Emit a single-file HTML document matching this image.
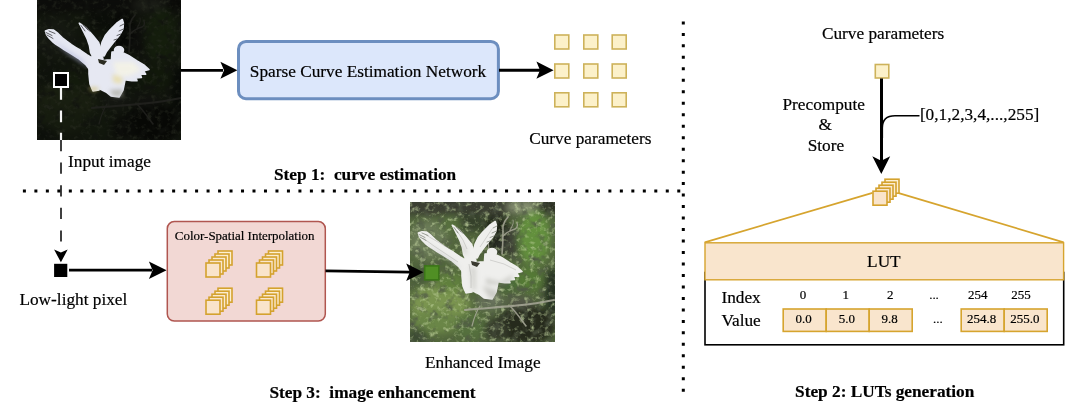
<!DOCTYPE html>
<html><head><meta charset="utf-8">
<style>
html,body{margin:0;padding:0;background:#fff;}
body{width:1068px;height:420px;overflow:hidden;}
svg{display:block;will-change:transform;}
text{font-family:"Liberation Serif",serif;fill:#000;stroke:#000;stroke-width:0.2px;}
.t17{font-size:17.28px;}
.b17{font-size:17.28px;font-weight:bold;}
.t13{font-size:12.96px;}
</style></head><body>
<svg width="1068" height="420" viewBox="0 0 1068 420">
<defs>
  <filter id="bl1" x="-10%" y="-10%" width="120%" height="120%"><feGaussianBlur stdDeviation="0.7"/></filter>
  <filter id="bl4" x="-20%" y="-20%" width="140%" height="140%"><feGaussianBlur stdDeviation="5"/></filter>
  <filter id="bl2" x="-20%" y="-20%" width="140%" height="140%"><feGaussianBlur stdDeviation="2"/></filter>
  <clipPath id="cpIn"><rect x="0" y="0" width="144" height="140"/></clipPath>
  <clipPath id="cpEn"><rect x="0" y="0" width="145" height="140"/></clipPath>
  
  <filter id="bl3" x="-10%" y="-10%" width="120%" height="120%"><feGaussianBlur stdDeviation="3.5"/></filter>
  <filter id="noiseD" x="0" y="0" width="100%" height="100%"><feTurbulence type="fractalNoise" baseFrequency="0.11" numOctaves="3" seed="7" result="n"/><feColorMatrix in="n" type="matrix" values="0 0 0 0 0.08  0 0 0 0 0.1  0 0 0 0 0.06  -2.6 0 0 0 1.3"/><feGaussianBlur stdDeviation="0.7"/></filter>
  <filter id="noiseL" x="0" y="0" width="100%" height="100%"><feTurbulence type="fractalNoise" baseFrequency="0.2" numOctaves="3" seed="11" result="n"/><feColorMatrix in="n" type="matrix" values="0 0 0 0 0.56  0 0 0 0 0.68  0 0 0 0 0.36  2.0 0 0 0 -1.05"/><feGaussianBlur stdDeviation="0.6"/></filter>
<g id="photobg">
    <rect x="0" y="0" width="145" height="140" fill="#52663c"/>
    <g filter="url(#bl3)">
      <rect x="-5" y="-5" width="155" height="18" fill="#3a3c32"/>
      <ellipse cx="18" cy="38" rx="20" ry="20" fill="#6a7a56"/>
      <ellipse cx="40" cy="22" rx="12" ry="8" fill="#56703e"/>
      <ellipse cx="62" cy="20" rx="12" ry="10" fill="#34402a"/>
      <ellipse cx="86" cy="32" rx="13" ry="20" fill="#1c2019"/>
      <ellipse cx="92" cy="44" rx="8" ry="8" fill="#2a2e26"/>
      <ellipse cx="103" cy="40" rx="8" ry="16" fill="#3e4036"/>
      <ellipse cx="124" cy="36" rx="16" ry="28" fill="#64903e"/>
      <ellipse cx="140" cy="5" rx="9" ry="7" fill="#2a2e24"/>
      <ellipse cx="112" cy="5" rx="16" ry="6" fill="#8a9474"/>
      <ellipse cx="118" cy="78" rx="14" ry="12" fill="#557a36"/>
      <ellipse cx="143" cy="90" rx="9" ry="24" fill="#283222"/>
      <ellipse cx="12" cy="74" rx="12" ry="12" fill="#4a5c3a"/>
      <ellipse cx="30" cy="102" rx="30" ry="20" fill="#7a9450"/>
      <ellipse cx="26" cy="120" rx="26" ry="12" fill="#6a8646"/>
      <ellipse cx="60" cy="124" rx="14" ry="14" fill="#54703e"/>
      <ellipse cx="8" cy="134" rx="10" ry="8" fill="#3a4a30"/>
      <ellipse cx="116" cy="123" rx="30" ry="20" fill="#25291f"/>
      <ellipse cx="86" cy="128" rx="12" ry="12" fill="#343a2c"/>
      <ellipse cx="80" cy="100" rx="14" ry="8" fill="#66705a"/>
      <ellipse cx="110" cy="100" rx="14" ry="6" fill="#54584a"/>
      <ellipse cx="98" cy="82" rx="10" ry="8" fill="#4a6838"/>
      <ellipse cx="40" cy="80" rx="14" ry="10" fill="#60803e"/>
    </g>
    <rect x="0" y="0" width="145" height="140" filter="url(#noiseD)" />
    <rect x="0" y="0" width="145" height="140" filter="url(#noiseL)" />
    <g fill="none" stroke="#a8a898" stroke-linecap="round" opacity="0.85" filter="url(#bl1)">
      <path d="M55,108 C75,106 95,105 112,103 C124,102 134,100 144,98" stroke-width="2.2"/>
      <path d="M100,104 C106,110 110,116 116,124" stroke-width="1.5"/>
      <path d="M70,104 C66,110 64,116 62,124" stroke-width="1.2"/>
      <path d="M92,52 C93,44 93,34 93,24 C94,20 96,17 98,15" stroke-width="1.6"/>
      <path d="M93,34 C97,30 101,28 105,27 C107,26 108,24 107,21" stroke-width="1.3"/>
      <path d="M79,52 C79,46 78,41 78,36" stroke-width="1.2"/>
      <path d="M100,28 C102,24 104,22 103,18" stroke-width="1"/>
    </g>
  </g>
  <g id="fgaps" fill="none" stroke-linecap="round">
    <path d="M9,32.5 L15,35.5"/>
    <path d="M10,35 L16,38.5"/>
    <path d="M12,31 L18,33.5"/>
    <path d="M44,25.5 L48,31"/>
    <path d="M46,24.8 L51,30"/>
    <path d="M48,26 L53,31.5"/>
    <path d="M87,24 L83,26"/>
    <path d="M86.5,29 L82,31"/>
    <path d="M84,34 L80,35.5"/>
    <path d="M80,39 L77,40"/>
  </g>
  <g id="bird">
    <path d="M8.4,31 L12,29.8 L16.3,30 L21,33.5 L25.4,37.9 L30,41.5 L34.4,44.7 L39,47.6 L43.5,50.3 L50.2,54.9 L55,58 L59,60 L58,68 L54,72 L52.5,69.6 L49.1,65 L45,61.5 L41.2,58.2 L36.5,55.3 L32.1,52.6 L27.5,49.8 L23.1,46.9 L19,44.3 L15.2,41.3 L12,38 L9.5,34.5 Z"/>
    <path d="M42.3,23.2 L49.1,27.7 L55.9,35.6 L61.6,42.4 L63.8,49.2 L64.3,53.7 L61,57 L56,57 L53.6,52.6 L52.5,45.8 L50.2,39 L46.9,32.2 L43.5,25.4 Z"/>
    <path d="M85.3,19.5 L86.4,23.2 L86,28.8 L83,34.5 L77.4,41.3 L72.9,47 L69.5,51.5 L67.2,56 L62.7,56 L63.4,49.2 L65,42.4 L68.3,35.6 L72.9,30 L79.7,23.2 Z"/>
    <ellipse cx="60" cy="59" rx="6" ry="4.5"/>
    <path d="M52,62 L59,62 L62,72 L63,82 L62,90 L56,91 L53,84 L52,74 Z"/>
    <path d="M59,64 L64,61 L70,60 L76,60 L86,62 L89,70 L88,80 L86,90 L82,97 L74,96 L69,92 L63,89 L60,80 Z"/>
    <path d="M75,52 L83,51.5 L91.5,55.5 L100,61 L107.6,65.5 L112,69.5 L106.5,71 L108.7,74.2 L103.3,74.2 L104.4,77.5 L99,78 L100,80.7 L94.8,80.7 L87.3,79.6 L80.8,78.5 L76,76 L74,66 Z"/>
    <ellipse cx="82" cy="50" rx="4.5" ry="3.5"/>
  </g>

  <g id="stk">
    <rect x="12" y="0" width="14" height="14" fill="#fdf0d2" stroke="#d4a22e" stroke-width="1.6"/>
    <rect x="9" y="3" width="14" height="14" fill="#fcecd0" stroke="#d4a22e" stroke-width="1.6"/>
    <rect x="6" y="6" width="14" height="14" fill="#fbe9ce" stroke="#d4a22e" stroke-width="1.6"/>
    <rect x="3" y="9" width="14" height="14" fill="#fae6cc" stroke="#d4a22e" stroke-width="1.6"/>
    <rect x="0" y="12" width="14" height="14" fill="#f9e4cb" stroke="#d4a22e" stroke-width="1.6"/>
  </g>
</defs>

<!-- ===== input image ===== -->
<g id="inimg" transform="translate(37,0)" clip-path="url(#cpIn)">
  <use href="#photobg"/>
  <rect x="0" y="0" width="144" height="140" fill="#000" opacity="0.8"/>
  <g fill="#e6e8f2" stroke="#e6e8f2" stroke-width="1.6" stroke-linejoin="round" filter="url(#bl1)"><use href="#bird"/></g>
  <g filter="url(#bl2)" opacity="0.8">
    <path d="M76,62 L96,62 L104,70 L92,76 L80,76 Z" fill="#f6f4e4"/>
    <path d="M14,38 L30,50 L44,59 L52,68 L46,64 L30,53 Z" fill="#b4b8dc"/>
    <path d="M76,74 L86,78 L84,84 L76,82 Z" fill="#e8dca0"/>
    <path d="M72,90 L86,89 L84,97 L76,96 Z" fill="#b0b0a8"/>
    <ellipse cx="57" cy="89" rx="4.5" ry="1.8" fill="#d0c070"/>
  </g>
  <path d="M61,59 L70,61 L67,65 L62,63 Z" fill="#2a2a20"/>
  <use href="#fgaps" stroke="#101010" stroke-width="0.9" opacity="0.7"/>
</g>

<!-- ===== enhanced image ===== -->
<g id="enimg" transform="translate(410,202)" clip-path="url(#cpEn)">
  <use href="#photobg"/>
  <g fill="#efefed" stroke="#efefed" stroke-width="1.6" stroke-linejoin="round" filter="url(#bl1)"><use href="#bird"/></g>
  <g filter="url(#bl2)" opacity="0.4">
    <path d="M14,38 L30,50 L44,59 L52,68 L46,64 L30,53 Z" fill="#a8acb0"/>
    <path d="M76,76 L90,80 L104,72 L100,80 L88,83 L76,82 Z" fill="#a0a098"/>
    <path d="M60,64 L66,66 L66,88 L62,88 Z" fill="#b0b0a8"/>
    <path d="M48,34 L56,48 L58,54 L54,50 Z" fill="#9a9a90"/>
    <path d="M72,84 L86,88 L90,96 L80,97 Z" fill="#9a9a92"/>
  </g>
  <g fill="none" stroke="#9c9c98" stroke-width="0.8" opacity="0.45">
    <path d="M13,36 L24,44 L36,52 L48,60"/>
    <path d="M16,33 L28,40 L40,47"/>
    <path d="M47,29 L53,38 L57,47"/>
    <path d="M82,27 L76,36 L70,45"/>
    <path d="M80,58 L94,62 L106,68"/>
    <path d="M59,62 L61,74 L61,86"/>
  </g>
  <path d="M61,59 L70,61 L67,65 L62,63 Z" fill="#3a3a30"/>
  <use href="#fgaps" stroke="#505848" stroke-width="0.9" opacity="0.6"/>
</g>

<!-- dotted separators -->
<line x1="22.9" y1="190.9" x2="681" y2="190.9" stroke="#000" stroke-width="3" stroke-dasharray="3 8.48"/>
<line x1="683.3" y1="21.4" x2="683.3" y2="395" stroke="#000" stroke-width="3" stroke-dasharray="3 8.48"/>

<!-- marker in input image -->
<rect x="54" y="73" width="14" height="14" fill="#000" stroke="#fff" stroke-width="2"/>
<line x1="61" y1="88" x2="61" y2="140" stroke="#f4f4f4" stroke-width="2.2" stroke-dasharray="11.8 10.6"/>
<line x1="61" y1="140" x2="61" y2="253" stroke="#000" stroke-width="1.5" stroke-dasharray="11.2 11.4"/>
<path d="M60.9 262.3 L54.1 249.6 L60.9 252.5 L67.7 249.6 Z" fill="#000"/>
<rect x="54.1" y="263.8" width="13.2" height="13.2" fill="#000"/>

<!-- arrow input image -> network -->
<line x1="181" y1="70.3" x2="223" y2="70.3" stroke="#000" stroke-width="2.8"/>
<path d="M237.4 70.3 L220.4 61.8 L224 70.3 L220.4 78.8 Z" fill="#000"/>

<!-- network box -->
<rect x="238.5" y="41.4" width="259.9" height="57.25" rx="7.5" ry="7.5" fill="#dce7fb" stroke="#6c8ebf" stroke-width="3"/>
<text class="t17" x="368" y="77.4" text-anchor="middle">Sparse Curve Estimation Network</text>

<!-- arrow network -> params -->
<line x1="499" y1="70.25" x2="540" y2="70.25" stroke="#000" stroke-width="2.8"/>
<path d="M553.6 70.2 L536.4 61.6 L540 70.2 L536.4 78.8 Z" fill="#000"/>

<!-- 3x3 param grid -->
<g fill="#fcf1ca" stroke="#cdb25a" stroke-width="1.6">
  <rect x="554.8" y="35" width="14" height="14"/>
  <rect x="583.8" y="35" width="14" height="14"/>
  <rect x="612.2" y="35" width="14" height="14"/>
  <rect x="554.8" y="64" width="14" height="14"/>
  <rect x="583.8" y="64" width="14" height="14"/>
  <rect x="612.2" y="64" width="14" height="14"/>
  <rect x="554.8" y="92.8" width="14" height="14"/>
  <rect x="583.8" y="92.8" width="14" height="14"/>
  <rect x="612.2" y="92.8" width="14" height="14"/>
</g>

<text class="t17" x="590.3" y="144" text-anchor="middle">Curve parameters</text>
<text class="t17" x="109.5" y="166.9" text-anchor="middle">Input image</text>
<text class="b17" x="365.1" y="179.7" text-anchor="middle" xml:space="preserve" style="white-space:pre">Step 1:  curve estimation</text>

<!-- ===== step 3 ===== -->
<line x1="69" y1="270.2" x2="152" y2="270.2" stroke="#000" stroke-width="2.7"/>
<path d="M166.6 270.2 L148.9 261.4 L152.6 270.2 L148.9 279 Z" fill="#000"/>
<text class="t17" x="73.4" y="305" text-anchor="middle">Low-light pixel</text>

<rect x="167.3" y="221.6" width="158" height="99.4" rx="7" ry="7" fill="#f2d8d4" stroke="#b05650" stroke-width="1.5"/>
<text class="t13" x="244.7" y="240" text-anchor="middle">Color-Spatial Interpolation</text>
<use href="#stk" x="206" y="251"/>
<use href="#stk" x="256.5" y="251"/>
<use href="#stk" x="206" y="288.2"/>
<use href="#stk" x="256.5" y="288.2"/>

<line x1="325.5" y1="270.8" x2="410" y2="272.1" stroke="#000" stroke-width="2.7"/>
<path d="M423.5 272.2 L406.2 263.5 L409.8 272.1 L406.2 280.9 Z" fill="#000"/>
<rect x="424.7" y="265.9" width="14.1" height="13.9" fill="#508f24" stroke="#3b7618" stroke-width="1.6"/>

<text class="t17" x="482.8" y="368.2" text-anchor="middle">Enhanced Image</text>
<text class="b17" x="372.5" y="398" text-anchor="middle" xml:space="preserve" style="white-space:pre">Step 3:  image enhancement</text>

<!-- ===== step 2 ===== -->
<text class="t17" x="883.1" y="39" text-anchor="middle">Curve parameters</text>
<rect x="875.3" y="64.5" width="13.5" height="13.5" fill="#fcf1ca" stroke="#cdb25a" stroke-width="1.6"/>
<line x1="881.5" y1="78.5" x2="881.5" y2="163" stroke="#000" stroke-width="3"/>
<path d="M881.3 174 L872.3 156.2 L881.3 160.8 L890.2 156.2 Z" fill="#000"/>
<path d="M882.3 138 L882.3 128 C882.3 120 886.5 115.8 895 115.8 L919.5 115.8" fill="none" stroke="#000" stroke-width="1.6"/>
<text class="t17" x="823.7" y="110" text-anchor="middle">Precompute</text>
<text class="t17" x="825.2" y="130" text-anchor="middle">&amp;</text>
<text class="t17" x="825.9" y="150.75" text-anchor="middle">Store</text>
<text class="t17" x="979.6" y="119.8" text-anchor="middle">[0,1,2,3,4,...,255]</text>

<!-- LUT -->
<rect x="705" y="272.5" width="358.7" height="72.3" fill="#fff" stroke="#000" stroke-width="1.6"/>
<line x1="704.7" y1="242.3" x2="872.5" y2="192.9" stroke="#d6a42e" stroke-width="1.8"/>
<line x1="898.8" y1="193.1" x2="1063.7" y2="242.3" stroke="#d6a42e" stroke-width="1.8"/>
<use href="#stk" x="873" y="179.2"/>
<rect x="705" y="242.8" width="358.6" height="37" fill="#f9e5cd" stroke="#d6a42e" stroke-width="1.4"/>
<text class="t17" x="883.9" y="267.1" text-anchor="middle">LUT</text>
<text class="t17" x="741.1" y="302.8" text-anchor="middle">Index</text>
<text class="t17" x="741.1" y="325.9" text-anchor="middle">Value</text>
<g class="t13" text-anchor="middle">
  <text class="t13" x="802.9" y="299">0</text>
  <text class="t13" x="845.8" y="299">1</text>
  <text class="t13" x="890.2" y="299">2</text>
  <text class="t13" x="934" y="299">...</text>
  <text class="t13" x="977.8" y="299">254</text>
  <text class="t13" x="1020.9" y="299">255</text>
</g>
<g fill="#f9e5cd" stroke="#d6a42e" stroke-width="1.6">
  <rect x="783.2" y="309" width="43" height="22.4"/>
  <rect x="826.2" y="309" width="43" height="22.4"/>
  <rect x="869.2" y="309" width="43" height="22.4"/>
  <rect x="961.2" y="309" width="43" height="22.4"/>
  <rect x="1004.2" y="309" width="43" height="22.4"/>
</g>
<g text-anchor="middle">
  <text class="t13" x="803.7" y="323.1">0.0</text>
  <text class="t13" x="846.8" y="323.1">5.0</text>
  <text class="t13" x="889.6" y="323.1">9.8</text>
  <text class="t13" x="937.9" y="323.1">...</text>
  <text class="t13" x="981.7" y="323.1">254.8</text>
  <text class="t13" x="1024.8" y="323.1">255.0</text>
</g>
<text class="b17" x="884.7" y="396.5" text-anchor="middle">Step 2: LUTs generation</text>
</svg>
</body></html>
